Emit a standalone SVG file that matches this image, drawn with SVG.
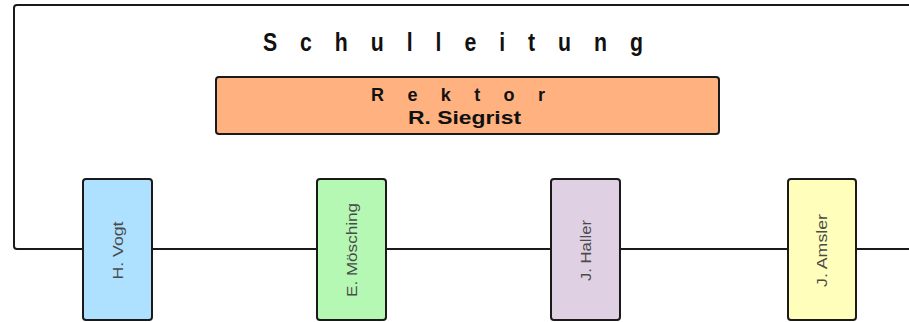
<svg xmlns="http://www.w3.org/2000/svg" width="909" height="322" viewBox="0 0 909 322">
<style>
.box{stroke:#1a1a1a;stroke-width:2}
.name{font-family:"Liberation Sans",Arial,sans-serif;font-size:14.5px;fill:#4a4a4a;text-anchor:middle;dominant-baseline:central}
.title{font-family:"Liberation Sans",Arial,sans-serif;font-weight:bold;fill:#111}
.conn{fill:none;stroke:#1a1a1a;stroke-width:2}
</style>
<rect width="909" height="322" fill="#ffffff"/>
<g id="connectors">
<path class="conn" d="M909,5 H17 Q14,5 14,8 V246 Q14,249 17,249 H909"/>
</g>
<g id="schulleitung">
<text class="title" font-size="25" transform="translate(263,51) scale(0.85,1)" x="0" y="0" textLength="447" lengthAdjust="spacing">Schulleitung</text>
</g>
<g id="rektor">
<rect class="box" x="216" y="77" width="503" height="57" rx="3" fill="#FFB27F"/>
<text class="title" font-size="18" x="371" y="100.5" textLength="174" lengthAdjust="spacing">Rektor</text>
<text class="title" font-size="17.5" x="408" y="123.5" textLength="113" lengthAdjust="spacingAndGlyphs">R. Siegrist</text>
</g>
<g id="vogt">
<rect class="box" x="83" y="179" width="69" height="141" rx="3" fill="#ADE1FF"/>
<text class="name" transform="translate(117.5,250.5) rotate(-90)" x="0" y="0" textLength="58" lengthAdjust="spacingAndGlyphs">H. Vogt</text>
</g>
<g id="moesching">
<rect class="box" x="317" y="179" width="69" height="141" rx="3" fill="#B4F8B4"/>
<text class="name" transform="translate(351.5,250) rotate(-90)" x="0" y="0" textLength="94" lengthAdjust="spacingAndGlyphs">E. Mösching</text>
</g>
<g id="haller">
<rect class="box" x="551" y="179" width="69" height="141" rx="3" fill="#DFD0E3"/>
<text class="name" transform="translate(586,250.5) rotate(-90)" x="0" y="0" textLength="61" lengthAdjust="spacingAndGlyphs">J. Haller</text>
</g>
<g id="amsler">
<rect class="box" x="788" y="179" width="68" height="141" rx="3" fill="#FFFFBB"/>
<text class="name" transform="translate(822,250.5) rotate(-90)" x="0" y="0" textLength="73" lengthAdjust="spacingAndGlyphs">J. Amsler</text>
</g>
</svg>
